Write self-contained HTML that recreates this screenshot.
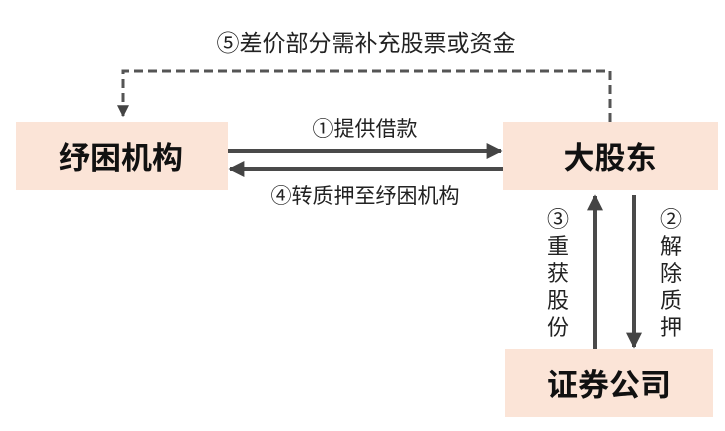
<!DOCTYPE html>
<html><head><meta charset="utf-8"><style>
html,body{margin:0;padding:0;background:#fff;width:725px;height:431px;overflow:hidden}
svg text{font-family:"Liberation Sans","Noto Sans CJK SC",sans-serif}
</style></head><body>
<svg width="725" height="431" viewBox="0 0 725 431">
<defs>
<marker id="a" viewBox="0 0 10 10" refX="9" refY="5" markerWidth="4" markerHeight="4" orient="auto"><path d="M0,0L10,5L0,10z" fill="#444"/></marker>
</defs>
<rect x="16" y="122" width="212" height="68" fill="#fbe4d7"/>
<rect x="503" y="122" width="215" height="68" fill="#fbe4d7"/>
<rect x="505" y="349" width="208" height="68" fill="#fbe4d7"/>
<text x="121" y="169" font-size="31" font-weight="bold" text-anchor="middle" fill="#111">纾困机构</text>
<text x="610" y="169" font-size="31" font-weight="bold" text-anchor="middle" fill="#111">大股东</text>
<text x="609" y="396" font-size="31" font-weight="bold" text-anchor="middle" fill="#111">证券公司</text>
<path d="M610 122V71H123V116" fill="none" stroke="#555" stroke-width="3" stroke-dasharray="9,5" marker-end="url(#a)"/>
<line x1="228" y1="151" x2="501" y2="151" stroke="#4a4a4a" stroke-width="4" marker-end="url(#a)"/>
<line x1="503" y1="169" x2="230" y2="169" stroke="#4a4a4a" stroke-width="4" marker-end="url(#a)"/>
<line x1="595" y1="349" x2="595" y2="196" stroke="#4a4a4a" stroke-width="4" marker-end="url(#a)"/>
<line x1="634" y1="195" x2="634" y2="347" stroke="#4a4a4a" stroke-width="4" marker-end="url(#a)"/>
<text x="366" y="51" font-size="23" text-anchor="middle" fill="#222">⑤差价部分需补充股票或资金</text>
<text x="365" y="136" font-size="21" text-anchor="middle" fill="#222">①提供借款</text>
<text x="365" y="203" font-size="21" text-anchor="middle" fill="#222">④转质押至纾困机构</text>
<g font-size="22" text-anchor="middle" fill="#222">
<text x="558" y="227">③</text><text x="558" y="254">重</text><text x="558" y="281">获</text><text x="558" y="308">股</text><text x="558" y="335">份</text>
<text x="671" y="227">②</text><text x="671" y="254">解</text><text x="671" y="281">除</text><text x="671" y="308">质</text><text x="671" y="335">押</text>
</g>
</svg>
</body></html>
